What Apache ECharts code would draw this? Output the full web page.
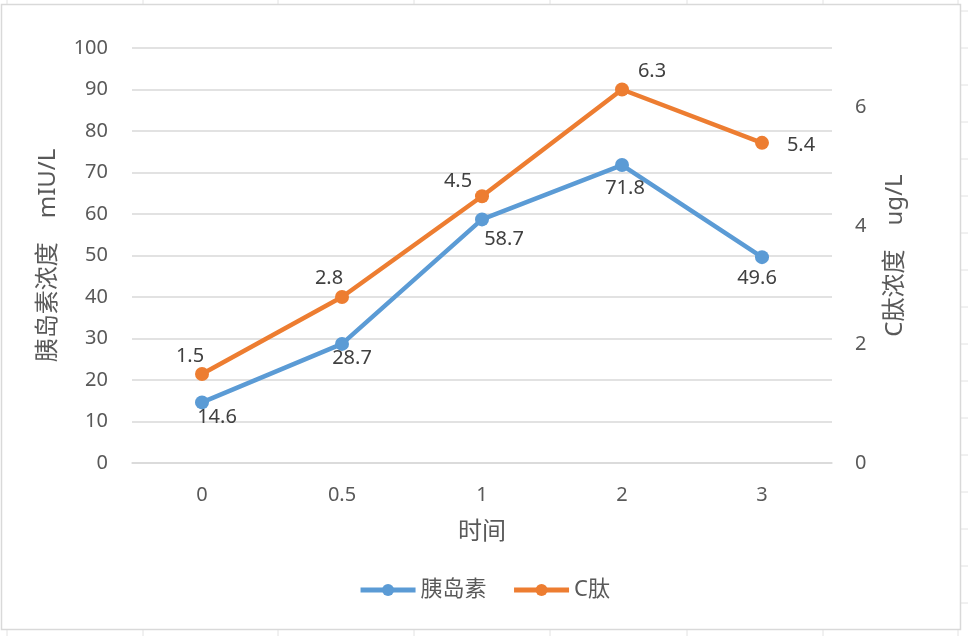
<!DOCTYPE html>
<html>
<head>
<meta charset="utf-8">
<script src="https://cdn.jsdelivr.net/npm/echarts@6/dist/echarts.min.js"></script>
<style>
  html, body { margin: 0; padding: 0; background: #fff; }
  #main { width: 968px; height: 636px; }
</style>
</head>
<body>
<div id="main"></div>
<script>
// 数据
const times = ['0', '0.5', '1', '2', '3'];
const insulin = [14.6, 28.7, 58.7, 71.8, 49.6];
const cPeptide = [1.5, 2.8, 4.5, 6.3, 5.4];
const seriesNames = ['胰岛素', 'C肽'];

// 标签偏移 (样式, 非数据)
const insulinLabelOffset = [[15, 15], [10, 14], [22, 20], [3, 23], [-5, 21]];
const cLabelOffset = [[-12, -18], [-13, -19], [-24, -15], [30, -18], [39, 2]];

const FONT = "'Noto Sans', 'Noto Sans CJK SC', sans-serif";
const BLUE = '#5B9BD5';
const ORANGE = '#ED7D31';

function withLabels(values, offsets) {
  return values.map((v, i) => ({
    value: v,
    label: { offset: offsets[i] }
  }));
}

// 背景表格线 (只画在图表边框外)
function sheetLines() {
  const els = [];
  const cols = [7, 143, 278, 414, 550, 687, 823, 958];
  cols.forEach(x => {
    els.push({ type: 'line', shape: { x1: x, y1: 0, x2: x, y2: 4 }, style: { stroke: '#e2e2e2', lineWidth: 1 } });
    els.push({ type: 'line', shape: { x1: x, y1: 630, x2: x, y2: 636 }, style: { stroke: '#e2e2e2', lineWidth: 1 } });
  });
  for (let y = 11; y < 636; y += 37) {
    els.push({ type: 'line', shape: { x1: 961, y1: y, x2: 968, y2: y }, style: { stroke: '#e2e2e2', lineWidth: 1 } });
  }
  els.push({
    type: 'rect',
    shape: { x: 1.5, y: 4.5, width: 959, height: 625 },
    style: { fill: 'none', stroke: '#d9d9d9', lineWidth: 1.5 }
  });
  return els;
}

const chart = echarts.init(document.getElementById('main'));

const labelStyle = {
  show: true,
  position: 'inside',
  color: '#404040',
  fontSize: 20,
  fontFamily: FONT
};

chart.setOption({
  backgroundColor: '#fff',
  animation: false,
  textStyle: { fontFamily: FONT },
  graphic: sheetLines(),
  grid: { left: 132, right: 136, top: 48, bottom: 173 },
  legend: {
    bottom: 30,
    left: 'center',
    itemWidth: 55,
    itemHeight: 15,
    itemGap: 25,
    textStyle: { color: '#595959', fontSize: 22, fontFamily: FONT },
    data: [
      { name: seriesNames[0], lineStyle: { width: 5, color: BLUE } },
      { name: seriesNames[1], lineStyle: { width: 5, color: ORANGE } }
    ]
  },
  xAxis: {
    type: 'category',
    data: times,
    boundaryGap: true,
    name: '时间',
    nameLocation: 'middle',
    nameGap: 57,
    nameTextStyle: { color: '#595959', fontSize: 24, fontFamily: FONT },
    axisLine: { show: true, lineStyle: { color: '#d9d9d9', width: 1.5 } },
    axisTick: { show: false },
    axisLabel: { color: '#595959', fontSize: 20, margin: 22, fontFamily: FONT }
  },
  yAxis: [
    {
      type: 'value',
      min: 0,
      max: 100,
      interval: 10,
      name: '胰岛素浓度　mIU/L',
      nameLocation: 'middle',
      nameGap: 72,
      nameTextStyle: { color: '#595959', fontSize: 24, fontFamily: FONT },
      axisLine: { show: false },
      axisTick: { show: false },
      axisLabel: { color: '#595959', fontSize: 20, margin: 24, fontFamily: FONT },
      splitLine: { lineStyle: { color: '#d9d9d9', width: 1.5 } }
    },
    {
      type: 'value',
      min: 0,
      max: 7,
      interval: 2,
      position: 'right',
      name: 'C肽浓度　ug/L',
      nameLocation: 'middle',
      nameRotate: 90,
      nameGap: 51,
      nameTextStyle: { color: '#595959', fontSize: 24, fontFamily: FONT },
      axisLine: { show: false },
      axisTick: { show: false },
      axisLabel: {
        color: '#595959', fontSize: 20, margin: 23, fontFamily: FONT,
        formatter: v => (v % 2 === 0 ? String(v) : '')
      },
      splitLine: { show: false }
    }
  ],
  series: [
    {
      name: seriesNames[0],
      type: 'line',
      yAxisIndex: 0,
      data: withLabels(insulin, insulinLabelOffset),
      symbol: 'circle',
      symbolSize: 14,
      itemStyle: { color: BLUE },
      lineStyle: { color: BLUE, width: 4.5 },
      label: labelStyle,
      z: 3
    },
    {
      name: seriesNames[1],
      type: 'line',
      yAxisIndex: 1,
      data: withLabels(cPeptide, cLabelOffset),
      symbol: 'circle',
      symbolSize: 14,
      itemStyle: { color: ORANGE },
      lineStyle: { color: ORANGE, width: 4.5 },
      label: labelStyle,
      z: 4
    }
  ]
});
</script>
</body>
</html>
